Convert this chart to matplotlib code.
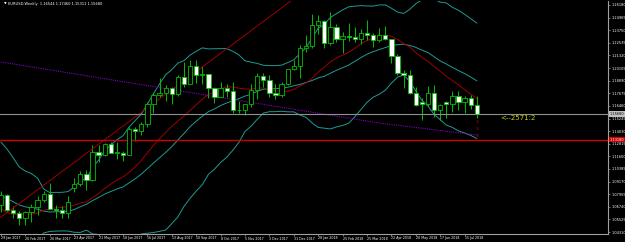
import numpy as np
import pandas as pd
import matplotlib.pyplot as plt

# weekly EURUSD bars, 29 Jan 2017 .. 29 Jul 2018
opens = [1.0695, 1.0785, 1.0640, 1.0615, 1.0565, 1.0620, 1.0670, 1.0740, 1.0800, 1.0650,
         1.0640, 1.0615, 1.0860, 1.0895, 1.0995, 1.0930, 1.1205, 1.1170, 1.1280, 1.1195,
         1.1195, 1.1170, 1.1425, 1.1400, 1.1470, 1.1665, 1.1750, 1.1775, 1.1820, 1.1760,
         1.1925, 1.1860, 1.2035, 1.1945, 1.1950, 1.1815, 1.1730, 1.1820, 1.1785, 1.1605,
         1.1610, 1.1665, 1.1795, 1.1935, 1.1895, 1.1770, 1.1750, 1.1860, 1.2005, 1.2030,
         1.2200, 1.2220, 1.2425, 1.2460, 1.2250, 1.2405, 1.2295, 1.2315, 1.2305, 1.2290,
         1.2350, 1.2325, 1.2280, 1.2330, 1.2290, 1.2130, 1.1960, 1.1940, 1.1770, 1.1680,
         1.1660, 1.1770, 1.1605, 1.1680, 1.1665, 1.1745, 1.1685, 1.1720, 1.1654]
highs = [1.0830, 1.0800, 1.0680, 1.0630, 1.0630, 1.0700, 1.0780, 1.0830, 1.0905, 1.0690,
         1.0680, 1.0780, 1.0950, 1.1020, 1.1025, 1.1265, 1.1270, 1.1285, 1.1295, 1.1295,
         1.1215, 1.1445, 1.1445, 1.1490, 1.1680, 1.1775, 1.1910, 1.1845, 1.1825, 1.1940,
         1.2070, 1.2090, 1.2090, 1.2035, 1.1955, 1.1830, 1.1880, 1.1860, 1.1880, 1.1690,
         1.1665, 1.1860, 1.1960, 1.1960, 1.1940, 1.1860, 1.1880, 1.2000, 1.2090, 1.2230,
         1.2325, 1.2535, 1.2520, 1.2475, 1.2555, 1.2435, 1.2355, 1.2445, 1.2410, 1.2390,
         1.2475, 1.2345, 1.2395, 1.2415, 1.2295, 1.2145, 1.1995, 1.1995, 1.1830, 1.1720,
         1.1840, 1.1850, 1.1660, 1.1690, 1.1790, 1.1790, 1.1745, 1.1750, 1.1746]
lows = [1.0620, 1.0620, 1.0565, 1.0495, 1.0495, 1.0525, 1.0600, 1.0720, 1.0650, 1.0570,
        1.0570, 1.0570, 1.0820, 1.0875, 1.0840, 1.0925, 1.1110, 1.1160, 1.1190, 1.1130,
        1.1120, 1.1170, 1.1310, 1.1370, 1.1440, 1.1580, 1.1730, 1.1690, 1.1660, 1.1740,
        1.1825, 1.1860, 1.1870, 1.1860, 1.1720, 1.1670, 1.1730, 1.1730, 1.1575, 1.1575,
        1.1555, 1.1640, 1.1715, 1.1830, 1.1730, 1.1715, 1.1730, 1.1850, 1.1995, 1.1915,
        1.2165, 1.2205, 1.2335, 1.2205, 1.2235, 1.2260, 1.2155, 1.2270, 1.2260, 1.2240,
        1.2285, 1.2215, 1.2265, 1.2280, 1.2055, 1.1940, 1.1820, 1.1765, 1.1645, 1.1510,
        1.1645, 1.1540, 1.1510, 1.1525, 1.1590, 1.1610, 1.1575, 1.1620, 1.1531]
closes = [1.0785, 1.0640, 1.0615, 1.0565, 1.0620, 1.0670, 1.0740, 1.0800, 1.0650, 1.0640,
          1.0615, 1.0725, 1.0895, 1.0995, 1.0930, 1.1205, 1.1170, 1.1280, 1.1195, 1.1195,
          1.1170, 1.1425, 1.1400, 1.1470, 1.1665, 1.1750, 1.1775, 1.1820, 1.1760, 1.1925,
          1.1860, 1.2035, 1.1945, 1.1950, 1.1815, 1.1730, 1.1820, 1.1785, 1.1605, 1.1610,
          1.1665, 1.1795, 1.1935, 1.1895, 1.1770, 1.1750, 1.1860, 1.2005, 1.2030, 1.2200,
          1.2220, 1.2425, 1.2460, 1.2250, 1.2405, 1.2295, 1.2315, 1.2305, 1.2290, 1.2350,
          1.2325, 1.2280, 1.2330, 1.2290, 1.2130, 1.1960, 1.1940, 1.1770, 1.1655, 1.1660,
          1.1770, 1.1605, 1.1655, 1.1665, 1.1745, 1.1685, 1.1720, 1.1655, 1.1568]
# closes of the weeks before the first bar, only needed by the indicators
pre_closes = [1.1230, 1.1155, 1.1225, 1.1240, 1.1200, 1.0970, 1.0880, 1.0985, 1.1140, 1.0850,
              1.0585, 1.0590, 1.0665, 1.0560, 1.0450, 1.0455, 1.0520, 1.0530, 1.0645, 1.0700,
              1.0695]

date_labels = ["29 Jan 2017", "26 Feb 2017", "26 Mar 2017", "23 Apr 2017", "21 May 2017",
               "18 Jun 2017", "16 Jul 2017", "13 Aug 2017", "10 Sep 2017", "8 Oct 2017",
               "5 Nov 2017", "3 Dec 2017", "31 Dec 2017", "28 Jan 2018", "25 Feb 2018",
               "25 Mar 2018", "22 Apr 2018", "20 May 2018", "17 Jun 2018", "15 Jul 2018"]
price_ticks = [1.26180, 1.24965, 1.23750, 1.22535, 1.21320, 1.20105, 1.18890, 1.17675,
               1.16460, 1.15245, 1.14030, 1.12815, 1.11600, 1.10385, 1.09170, 1.07955,
               1.06740, 1.05525, 1.04310]

bid = 1.15680
red_level = 1.13180
# trend line, (bar, price) anchors
trend_red = [(0, 1.0576), (20, 1.1452)]
# violet dotted slow average
slow_bars = [0, 62, 78]
slow_vals = [1.2069, 1.1481, 1.1366]
marks_3 = [1.1491, 1.1424, 1.1356]

BG = "black"
GREEN = "#00c000"
TEAL = "#209a94"
DARKRED = "#a00000"

n = len(closes)
x = np.arange(n)
o = np.array(opens); h = np.array(highs); l = np.array(lows); c = np.array(closes)

allc = pd.Series(pre_closes + closes)
mid = allc.rolling(20).mean()
sd = allc.rolling(20).std(ddof=0)
k = len(pre_closes)
bb_mid = mid.values[k:]
bb_up = (mid + 2 * sd).values[k:]
bb_dn = (mid - 2 * sd).values[k:]
ma14 = allc.rolling(14).mean().values[k:]

fig = plt.figure(figsize=(6.25, 2.42), dpi=100, facecolor=BG)
ax = fig.add_axes([0, 8 / 242, 608 / 625, 233 / 242], facecolor=BG)

# bollinger bands and moving average
ax.plot(x, bb_up, color=TEAL, lw=0.7)
ax.plot(x, bb_mid, color=TEAL, lw=0.7)
ax.plot(x, bb_dn, color=TEAL, lw=0.7)
ax.plot(x, ma14, color=DARKRED, lw=0.7)

# candles
ax.vlines(x, l, h, color=GREEN, lw=0.7)
bull = c >= o
body_lo = np.minimum(o, c)
body_h = np.maximum(np.abs(c - o), 0.0004)
ax.bar(x, body_h, bottom=body_lo, width=0.7,
       color=np.where(bull, "black", "white"), edgecolor=GREEN, linewidth=0.6, zorder=3)

# drawn objects
(x0, p0), (x1, p1) = trend_red
xs = np.array([-2, 70])
ax.plot(xs, p0 + (xs - x0) * (p1 - p0) / (x1 - x0), color=DARKRED, lw=0.7)
ax.plot(slow_bars, slow_vals, color="#8000c0", lw=0.8, ls=(0, (1, 1)))
ax.axhline(bid, color="#909090", lw=0.8)
ax.axhline(red_level, color="#d00000", lw=1.0)
for p in marks_3:
    ax.text(n - 1, p, "3", color="#e00000", fontsize=3.2, ha="center", va="center")
ax.text(81.8, 1.1529, "<--2571:2", color="#d0d000", fontsize=5, va="center", ha="left")

ax.set_xlim(-1 / 6.1, -1 / 6.1 + 608 / 6.1)
ax.set_ylim(1.04124, 1.26562)

for s in ["left", "top"]:
    ax.spines[s].set_visible(False)
for s in ["right", "bottom"]:
    ax.spines[s].set_color("#a0a0a0")
    ax.spines[s].set_linewidth(0.8)

ax.yaxis.tick_right()
ax.set_yticks(price_ticks)
ax.set_yticklabels([f"{p:.5f}" for p in price_ticks])
ax.tick_params(axis="y", colors="#a0a0a0", labelcolor="white", labelsize=2.5,
               length=1.5, width=0.5, pad=0.8)
ax.set_xticks(np.arange(0, 80, 4))
ax.set_xticklabels(date_labels, ha="left")
ax.tick_params(axis="x", colors="#a0a0a0", labelcolor="white", labelsize=2.3,
               length=1.5, width=0.5, pad=0.3)

ax.text(608 / 6.1 - 1 / 6.1 + 0.3, bid, f"{bid:.5f}", color="black", fontsize=2.5,
        va="center", ha="left", bbox=dict(boxstyle="square,pad=0.15", fc="#c0c0c0", ec="none"))
ax.text(608 / 6.1 - 1 / 6.1 + 0.3, red_level, f"{red_level:.5f}", color="white", fontsize=2.5,
        va="center", ha="left", bbox=dict(boxstyle="square,pad=0.15", fc="#d00000", ec="none"))

fig.text(4 / 625, 1 - 4 / 242, "\u25bc", color="white", fontsize=2.5, va="center")
fig.text(8 / 625, 1 - 4 / 242, "EURUSD,Weekly  1.16544 1.17460 1.15311 1.15680",
         color="white", fontsize=2.6, va="center")

fig.savefig("out.png", dpi=100, facecolor=BG)
